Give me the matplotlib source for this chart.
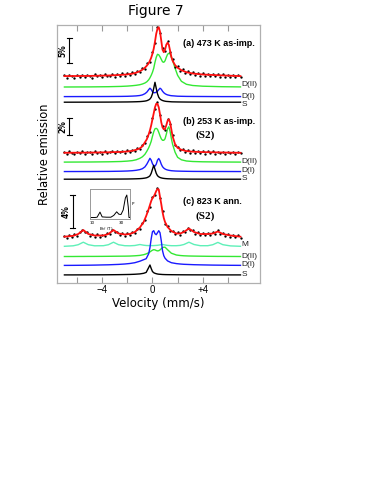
import matplotlib
matplotlib.use("Agg")
import matplotlib.pyplot as plt
import numpy as np

# Velocity channels of the measured spectra (mm/s)
vel_data = [-7.0, -6.8, -6.6, -6.4, -6.2, -6.0, -5.8, -5.6, -5.4, -5.2,
            -5.0, -4.8, -4.6, -4.4, -4.2, -4.0, -3.8, -3.6, -3.4, -3.2,
            -3.0, -2.8, -2.6, -2.4, -2.2, -2.0, -1.8, -1.6, -1.4, -1.2,
            -1.0, -0.8, -0.6, -0.4, -0.2, 0.0, 0.2, 0.4, 0.6, 0.8,
            1.0, 1.2, 1.4, 1.6, 1.8, 2.0, 2.2, 2.4, 2.6, 2.8,
            3.0, 3.2, 3.4, 3.6, 3.8, 4.0, 4.2, 4.4, 4.6, 4.8,
            5.0, 5.2, 5.4, 5.6, 5.8, 6.0, 6.2, 6.4, 6.6, 6.8, 7.0]

# measured emission (arb. units above each spectrum's baseline)
a_data = [1.5, -0.8, 2.0, 0.3, -1.2, 1.8, 0.1, 2.2, -0.5, 1.6,
          0.4, -0.9, 2.4, 0.6, 1.9, -0.3, 2.5, 0.8, 1.1, 3.0,
          0.2, 2.9, 1.0, 3.4, 1.2, 3.8, 1.9, 4.4, 2.6, 5.8,
          4.6, 8.5, 8.0, 13.5, 14.5, 24.5, 33.5, 50.0, 43.5, 28.5,
          25.5, 35.5, 24.5, 17.5, 10.0, 10.5, 6.0, 7.5, 3.8, 5.5,
          2.4, 4.8, 1.6, 4.0, 1.2, 3.6, 0.9, 3.0, 0.6, 2.7,
          0.3, 2.5, 0.0, 2.3, -0.2, 2.0, 0.1, 1.9, -0.6, 1.6, 0.2]
b_data = [1.2, -0.9, 1.9, 0.2, -0.6, 1.7, 0.0, 2.0, -0.4, 1.1,
          1.8, -0.5, 2.1, 0.4, 1.4, -0.2, 2.3, 0.7, 1.5, 2.6,
          0.1, 2.4, 0.9, 2.8, 0.8, 3.1, 1.2, 3.8, 2.2, 5.3,
          4.2, 8.2, 10.0, 17.0, 21.5, 35.5, 44.5, 51.0, 38.0, 27.5,
          23.0, 34.0, 29.5, 18.5, 8.0, 6.5, 3.2, 4.6, 1.4, 3.2,
          0.8, 2.9, 0.3, 2.4, 0.6, 2.2, -0.3, 1.9, 0.5, 2.0,
          -0.4, 1.8, 0.2, 1.5, -0.6, 1.6, 0.3, 1.2, -0.5, 1.4, 0.0]
c_data = [1.0, -1.0, 1.8, 0.0, 2.6, 1.2, 5.0, 7.2, 5.0, 4.8,
          1.2, 3.0, 0.4, 2.6, 0.3, 2.4, 0.8, 3.6, 3.0, 7.4,
          5.2, 5.0, 2.0, 3.9, 1.5, 3.8, 2.0, 5.0, 4.0, 8.4,
          8.5, 14.5, 17.0, 26.5, 30.5, 40.5, 42.0, 49.5, 39.0, 26.5,
          13.5, 11.2, 5.8, 6.4, 2.8, 4.6, 2.4, 5.6, 5.0, 9.4,
          7.0, 6.8, 3.2, 4.6, 1.8, 4.0, 1.8, 4.2, 2.0, 4.6,
          3.4, 6.8, 3.4, 4.0, 1.0, 3.0, 0.4, 2.2, -0.4, 1.6, -0.6]

# fitted curves, panels (a) and (b)
vel_fit = [-7.0, -5.0, -3.5, -2.5, -2.0, -1.6, -1.3, -1.0, -0.8, -0.6,
           -0.45, -0.3, -0.2, -0.1, 0.0, 0.1, 0.2, 0.3, 0.4, 0.5,
           0.6, 0.7, 0.8, 0.9, 1.0, 1.1, 1.2, 1.3, 1.4, 1.5,
           1.6, 1.8, 2.0, 2.3, 2.7, 3.2, 4.0, 5.5, 7.0]
a_fit = [0.6, 0.8, 1.2, 1.8, 2.3, 3.0, 4.0, 5.5, 7.0, 9.0,
         11.0, 13.5, 16.0, 19.0, 23.0, 28.0, 35.0, 43.0, 48.0, 49.5,
         45.0, 36.0, 27.0, 24.5, 27.0, 32.0, 34.0, 32.0, 26.0, 20.0,
         16.0, 11.5, 9.0, 6.5, 4.5, 3.2, 2.2, 1.3, 0.6]
a_d2 = [0.3, 0.4, 0.6, 0.9, 1.2, 1.6, 2.0, 2.6, 3.3, 4.3,
        5.5, 7.5, 9.5, 12.0, 15.0, 19.0, 25.0, 30.0, 33.0, 32.5,
        30.5, 28.0, 25.5, 25.0, 26.5, 30.0, 33.0, 34.0, 33.5, 30.0,
        27.0, 19.0, 12.0, 6.0, 3.0, 1.8, 1.1, 0.6, 0.4]
a_d1 = [0.1, 0.15, 0.2, 0.3, 0.4, 0.6, 0.8, 1.2, 1.8, 3.0,
        4.5, 7.0, 8.5, 7.2, 5.0, 4.0, 4.0, 4.5, 5.5, 7.0,
        8.5, 7.5, 5.5, 4.0, 3.0, 2.3, 1.8, 1.5, 1.2, 1.0,
        0.9, 0.7, 0.5, 0.4, 0.3, 0.25, 0.2, 0.1, 0.1]
a_s = [0.1, 0.15, 0.2, 0.3, 0.35, 0.45, 0.55, 0.7, 0.9, 1.2,
       1.6, 2.4, 3.3, 5.0, 8.5, 14.0, 20.0, 14.0, 8.5, 5.0,
       3.3, 2.4, 1.8, 1.4, 1.1, 0.9, 0.8, 0.7, 0.6, 0.5,
       0.45, 0.4, 0.35, 0.3, 0.25, 0.2, 0.15, 0.1, 0.1]
b_fit = [0.5, 0.7, 1.0, 1.4, 1.8, 2.5, 3.5, 5.0, 7.0, 11.0,
         14.0, 19.0, 23.0, 28.0, 34.0, 40.0, 46.0, 49.5, 49.5, 46.0,
         39.0, 31.0, 26.0, 24.0, 24.5, 28.0, 32.5, 34.0, 31.0, 24.0,
         17.0, 9.0, 5.5, 3.5, 2.2, 1.6, 1.2, 0.8, 0.5]
b_d2 = [0.2, 0.3, 0.5, 0.8, 1.2, 1.7, 2.5, 4.0, 5.5, 8.0,
        11.0, 14.5, 17.5, 21.0, 26.0, 30.5, 33.5, 34.0, 33.0, 30.0,
        26.5, 23.5, 22.0, 22.0, 23.5, 28.0, 33.5, 35.5, 31.0, 24.0,
        18.0, 10.0, 5.0, 2.5, 1.3, 0.8, 0.5, 0.3, 0.2]
b_d1 = [0.15, 0.2, 0.3, 0.5, 0.7, 1.0, 1.4, 2.1, 3.0, 4.8,
        7.5, 11.0, 13.4, 11.5, 8.0, 5.8, 5.5, 7.5, 11.5, 13.2,
        11.0, 7.5, 5.0, 3.6, 2.7, 2.1, 1.7, 1.4, 1.2, 1.0,
        0.9, 0.7, 0.6, 0.5, 0.4, 0.3, 0.25, 0.2, 0.15]
b_s = [0.1, 0.15, 0.2, 0.25, 0.3, 0.4, 0.5, 0.65, 0.85, 1.2,
       1.6, 2.5, 3.5, 6.0, 10.0, 14.0, 10.0, 6.0, 3.6, 2.5,
       1.8, 1.4, 1.1, 0.9, 0.75, 0.65, 0.55, 0.5, 0.45, 0.4,
       0.35, 0.3, 0.28, 0.25, 0.2, 0.17, 0.15, 0.1, 0.1]

# fitted curves, panel (c)
vel_fit_c = [-7.0, -6.3, -5.9, -5.5, -5.1, -4.6, -3.9, -3.5, -3.1, -2.7,
             -2.2, -1.8, -1.4, -1.0, -0.7, -0.5, -0.3, -0.2, -0.1, 0.0,
             0.1, 0.2, 0.3, 0.4, 0.5, 0.6, 0.7, 0.8, 0.9, 1.0,
             1.2, 1.5, 1.9, 2.2, 2.5, 2.9, 3.3, 3.8, 4.4, 4.8,
             5.2, 5.6, 6.2, 7.0]
c_fit = [0.3, 1.2, 3.0, 7.0, 3.0, 1.5, 1.5, 3.0, 7.0, 3.5,
         2.5, 3.0, 5.0, 9.5, 15.0, 21.0, 28.0, 32.0, 36.0, 39.0,
         40.5, 43.0, 46.0, 48.0, 47.5, 40.0, 33.0, 25.0, 19.0, 15.0,
         10.0, 6.0, 3.5, 3.5, 5.0, 8.5, 5.0, 3.0, 3.0, 3.5,
         5.5, 3.0, 1.5, 0.3]
c_m = [0.4, 0.9, 2.0, 4.5, 2.0, 0.9, 1.0, 2.0, 4.5, 2.0,
       1.0, 0.9, 1.2, 2.2, 1.5, 1.2, 1.1, 1.1, 1.1, 1.1,
       1.1, 1.2, 1.3, 1.4, 1.6, 1.8, 2.1, 2.2, 2.0, 1.7,
       1.3, 1.0, 1.0, 1.3, 2.2, 4.5, 2.2, 1.0, 1.0, 2.0,
       4.3, 2.0, 0.8, 0.4]
c_d2 = [0.2, 0.2, 0.25, 0.25, 0.3, 0.3, 0.35, 0.4, 0.45, 0.5,
        0.55, 0.65, 0.9, 1.3, 2.0, 2.8, 4.0, 4.8, 5.7, 6.5,
        7.0, 6.8, 6.2, 5.8, 6.0, 6.8, 8.0, 9.0, 9.5, 9.5,
        7.0, 3.5, 1.7, 1.2, 0.9, 0.7, 0.6, 0.5, 0.4, 0.35,
        0.3, 0.3, 0.25, 0.2]
c_d1 = [0.3, 0.35, 0.4, 0.45, 0.5, 0.6, 0.8, 0.9, 1.1, 1.3,
        1.7, 2.2, 3.0, 4.5, 6.0, 7.0, 12.0, 18.0, 27.0, 34.0,
        35.0, 32.0, 31.0, 33.0, 35.0, 33.0, 25.0, 15.0, 10.0, 7.5,
        4.8, 3.0, 2.1, 1.7, 1.4, 1.2, 1.0, 0.85, 0.7, 0.6,
        0.55, 0.5, 0.4, 0.35]
c_s = [0.1, 0.1, 0.12, 0.14, 0.15, 0.17, 0.2, 0.25, 0.3, 0.35,
       0.45, 0.55, 0.75, 1.1, 1.7, 2.6, 7.5, 10.0, 6.5, 3.5,
       2.3, 1.7, 1.3, 1.0, 0.8, 0.7, 0.6, 0.5, 0.45, 0.4,
       0.35, 0.3, 0.25, 0.22, 0.2, 0.18, 0.16, 0.14, 0.12, 0.1,
       0.1, 0.1, 0.1, 0.1]

# inset: hyperfine field distribution
bhf = [9, 12, 13.5, 15.5, 17, 20, 23, 25, 27, 28.5, 30, 31.5, 33, 34, 35, 35.5, 36]
prob = [0.05, 0.05, 0.06, 0.23, 0.07, 0.06, 0.06, 0.12, 0.24, 0.16, 0.15, 0.3, 0.7, 0.8, 0.4, 0.05, 0.05]

panel_titles = ["(a) 473 K as-imp.", "(b) 253 K as-imp.", "(c) 823 K ann."]
scale_pct = ["5%", "2%", "4%"]
scale_len = [25, 17, 33]

COL = {"fit": "#ff1010", "M": "#5ef0b8", "D(II)": "#33e833", "D(I)": "#1a1aff", "S": "black"}

fig = plt.figure(figsize=(3.83, 4.95), dpi=100)
ax = fig.add_axes([57 / 383, 1 - 283 / 495, 203 / 383, 258 / 495])

panels = [
    (vel_fit, a_data, a_fit, [("D(II)", a_d2), ("D(I)", a_d1), ("S", a_s)],
     206.3, [195.7, 186.3, 180.7], [198, 186, 178]),
    (vel_fit, b_data, b_fit, [("D(II)", b_d2), ("D(I)", b_d1), ("S", b_s)],
     129.7, [120.7, 111.3, 103.7], [121.3, 112.3, 104]),
    (vel_fit_c, c_data, c_fit, [("M", c_m), ("D(II)", c_d2), ("D(I)", c_d1), ("S", c_s)],
     46.0, [36.3, 26.3, 17.3, 8.0], [38, 27, 18, 8.7]),
]

for vf, dat, fit, comps, base, cbases, lab_y in panels:
    ax.plot(vel_data, np.array(dat) + base, 'o', ms=1.7, color='black', mew=0, zorder=3)
    ax.plot(vf, np.array(fit) + base, color=COL["fit"], lw=1.3, zorder=4)
    for (name, vals), cb, ly in zip(comps, cbases, lab_y):
        ax.plot(vf, np.array(vals) + cb, color=COL[name], lw=1.0, zorder=2)
        ax.text(7.1, ly, name, fontsize=6, family="Liberation Sans", color="#222222",
                ha="left", va="center")

# panel titles and sample tags
title_y = [240, 161, 81]
for t, y in zip(panel_titles, title_y):
    ax.text(2.42, y, t, fontsize=6.5, fontweight="bold", family="Liberation Sans",
            ha="left", va="center")
ax.text(4.2, 148, "(S2)", fontsize=8, fontweight="bold", family="Liberation Serif",
        ha="center", va="center")
ax.text(4.2, 66.5, "(S2)", fontsize=8, fontweight="bold", family="Liberation Serif",
        ha="center", va="center")

# scale bars
bar_x = [-6.6, -6.6, -6.35]
bar_bottom = [220, 148, 55]
for pct, ln, bx, bb in zip(scale_pct, scale_len, bar_x, bar_bottom):
    ax.plot([bx, bx], [bb, bb + ln], color="black", lw=0.8)
    ax.plot([bx - 0.2, bx + 0.2], [bb, bb], color="black", lw=0.8)
    ax.plot([bx - 0.2, bx + 0.2], [bb + ln, bb + ln], color="black", lw=0.8)
    ax.text(bx - 0.5, bb + ln / 2, pct, rotation=90, fontsize=5.5, fontweight="bold",
            ha="center", va="center")

ax.set_xlim(-7.59, 8.55)
ax.set_ylim(0, 258)
ax.set_xticks([-6, -4, -2, 0, 2, 4, 6])
ax.set_xticklabels(["", "\u22124", "", "0", "", "+4", ""], family="Liberation Sans")
ax.set_yticks([])
ax.tick_params(axis="x", direction="in", top=True, length=4, width=0.8,
               color="#999999", labelsize=7, pad=1.5)
for sp in ax.spines.values():
    sp.set_color("#b0b0b0")
    sp.set_linewidth(0.9)
ax.set_xlabel("Velocity (mm/s)", fontsize=8.5, labelpad=1.5)
ax.set_ylabel("Relative emission", fontsize=8.3, labelpad=4)

fig.text(156 / 383, 1 - 11 / 495, "Figure 7", ha="center", va="center", fontsize=10)

# inset
ins = fig.add_axes([90 / 383, 1 - 219 / 495, 40 / 383, 30 / 495])
ins.plot(bhf, prob, color="black", lw=0.7)
ins.set_xlim(8.6, 36.2)
ins.set_ylim(0, 1)
ins.set_xticks([])
ins.set_yticks([])
for sp in ins.spines.values():
    sp.set_color("#999999")
    sp.set_linewidth(0.7)
ins.text(10, -0.08, "10", fontsize=3, ha="center", va="top")
ins.text(30, -0.08, "30", fontsize=3, ha="center", va="top")
ins.text(20, -0.2, "B$_{hf}$ (T)", fontsize=3, ha="center", va="top")
ins.text(37.0, 0.5, "P", fontsize=3, ha="left", va="center")

fig.savefig("out.png", dpi=100)
